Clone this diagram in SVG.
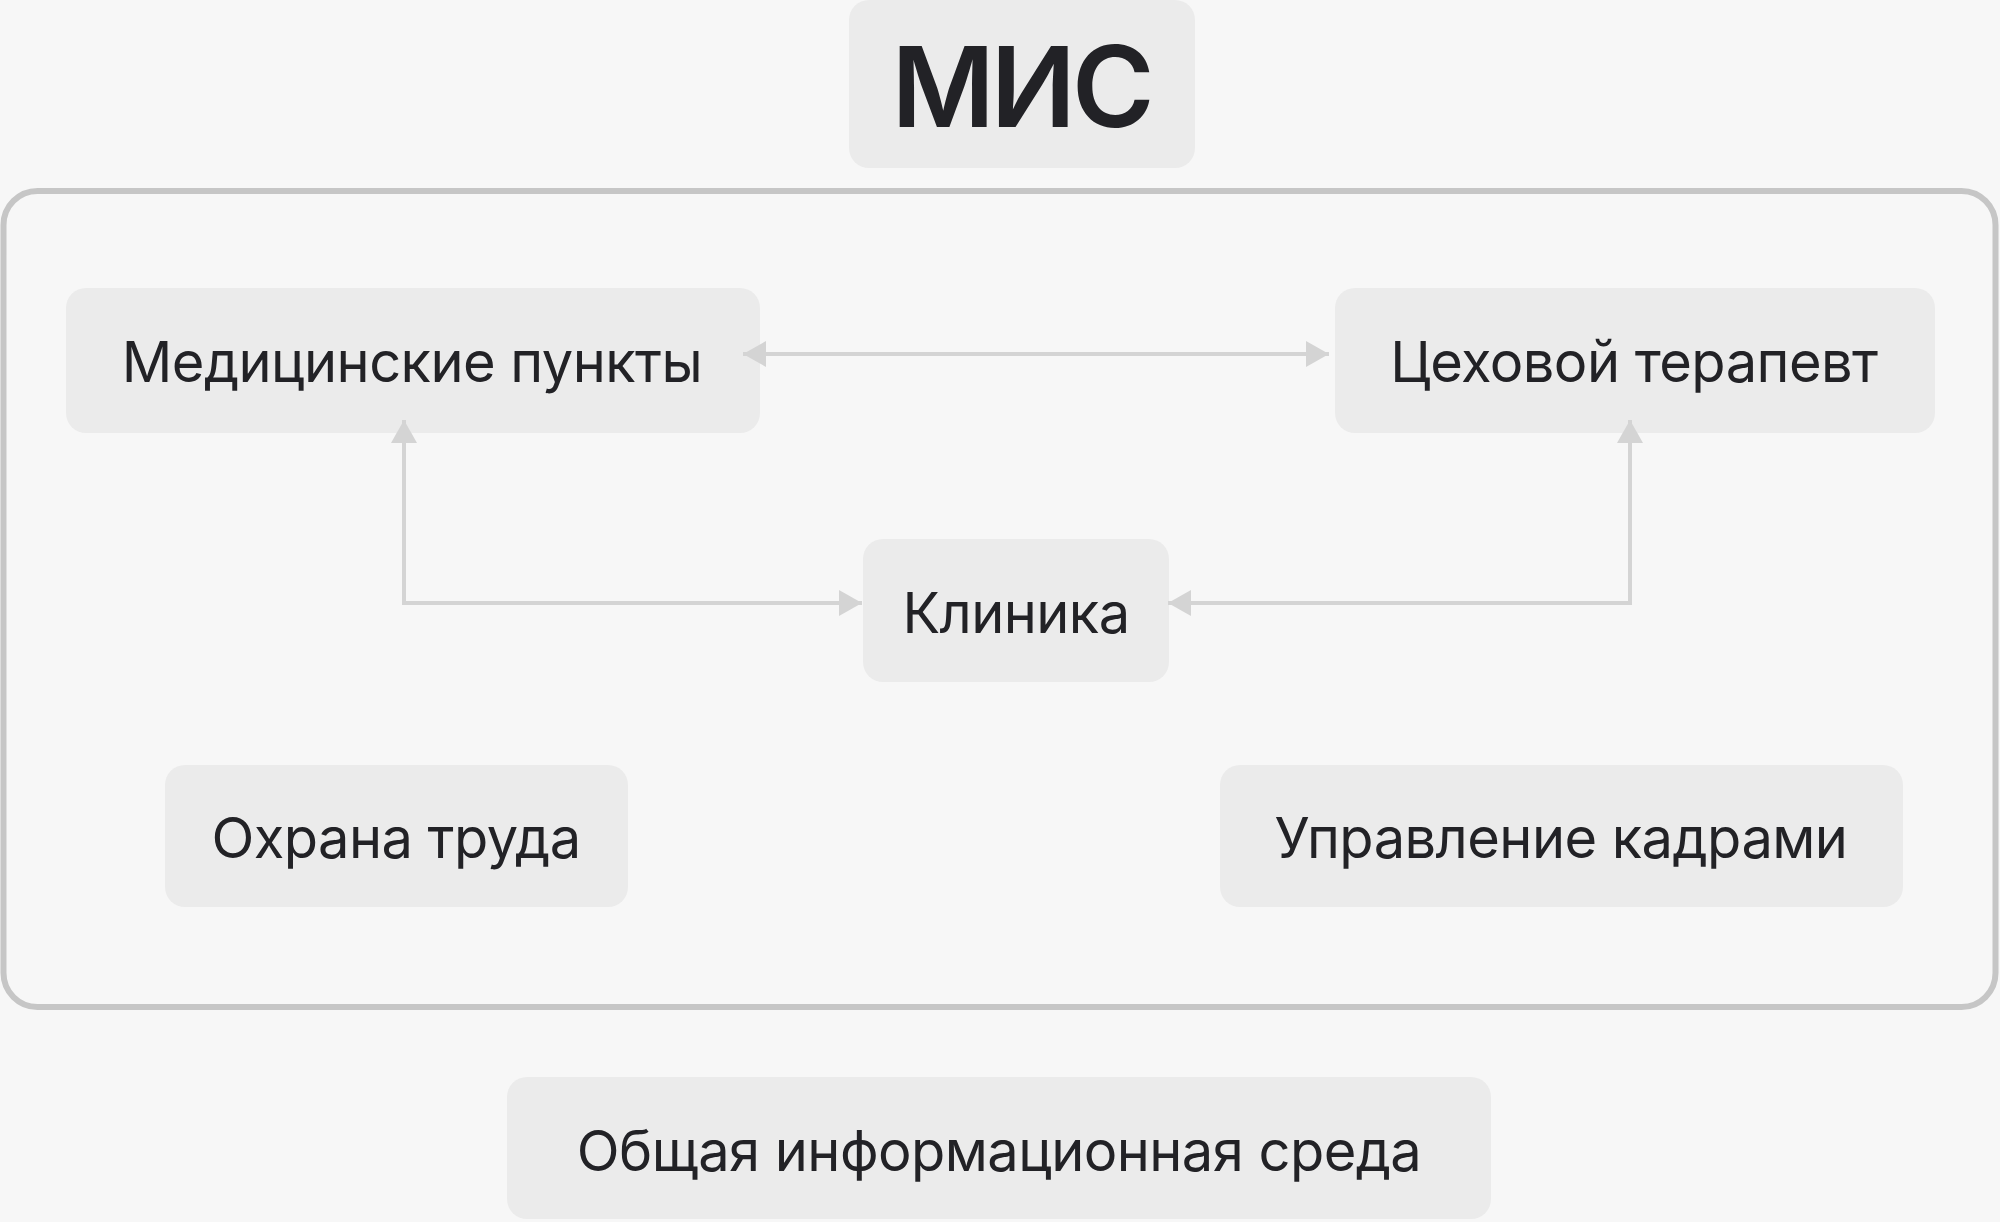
<svg xmlns="http://www.w3.org/2000/svg" width="2000" height="1222" viewBox="0 0 2000 1222">
<defs>
<style>
.node rect{fill:#ebebeb;}
.lbl{font-family:Inter,"Noto Sans","Liberation Sans",sans-serif;font-size:56px;letter-spacing:-0.55px;fill:#222226;text-anchor:middle;}
.title{font-family:Inter,"Noto Sans","Liberation Sans",sans-serif;font-size:112px;font-weight:600;letter-spacing:-4px;fill:#222226;text-anchor:middle;}
.conn{fill:none;stroke:#d4d4d4;stroke-width:4;}
</style>
<marker id="ah" viewBox="0 0 23 26" refX="23" refY="13" markerWidth="23" markerHeight="26" markerUnits="userSpaceOnUse" orient="auto-start-reverse">
<path d="M0,0 L23,13 L0,26 Z" fill="#d4d4d4"/>
</marker>
</defs>
<rect x="0" y="0" width="2000" height="1222" fill="#f7f7f7"/>
<g id="mis-container">
<rect x="3.5" y="191" width="1992" height="816" rx="34" fill="#f7f7f7" stroke="#c6c6c6" stroke-width="6"/>
</g>
<g id="title" class="node">
<rect x="849" y="0" width="346" height="168" rx="20"/>
<text class="title" x="1021" y="127">МИС</text>
</g>
<g id="med" class="node">
<rect x="66" y="288" width="694" height="145" rx="20"/>
<text class="lbl" x="412" y="382">Медицинские пункты</text>
</g>
<g id="ceh" class="node">
<rect x="1335" y="288" width="600" height="145" rx="20"/>
<text class="lbl" x="1634" y="382">Цеховой терапевт</text>
</g>
<g id="klin" class="node">
<rect x="863" y="539" width="306" height="143" rx="20"/>
<text class="lbl" x="1016" y="633">Клиника</text>
</g>
<g id="ohr" class="node">
<rect x="165" y="765" width="463" height="142" rx="20"/>
<text class="lbl" x="396" y="858">Охрана труда</text>
</g>
<g id="upr" class="node">
<rect x="1220" y="765" width="683" height="142" rx="20"/>
<text class="lbl" x="1561" y="858">Управление кадрами</text>
</g>
<g id="env" class="node">
<rect x="507" y="1077" width="984" height="142" rx="20"/>
<text class="lbl" x="999" y="1171">Общая информационная среда</text>
</g>
<g id="connectors">
<path class="conn" d="M743,354 L1329,354" marker-start="url(#ah)" marker-end="url(#ah)"/>
<path class="conn" d="M404,420 L404,603 L862,603" marker-start="url(#ah)" marker-end="url(#ah)"/>
<path class="conn" d="M1630,420 L1630,603 L1168,603" marker-start="url(#ah)" marker-end="url(#ah)"/>
</g>
</svg>
